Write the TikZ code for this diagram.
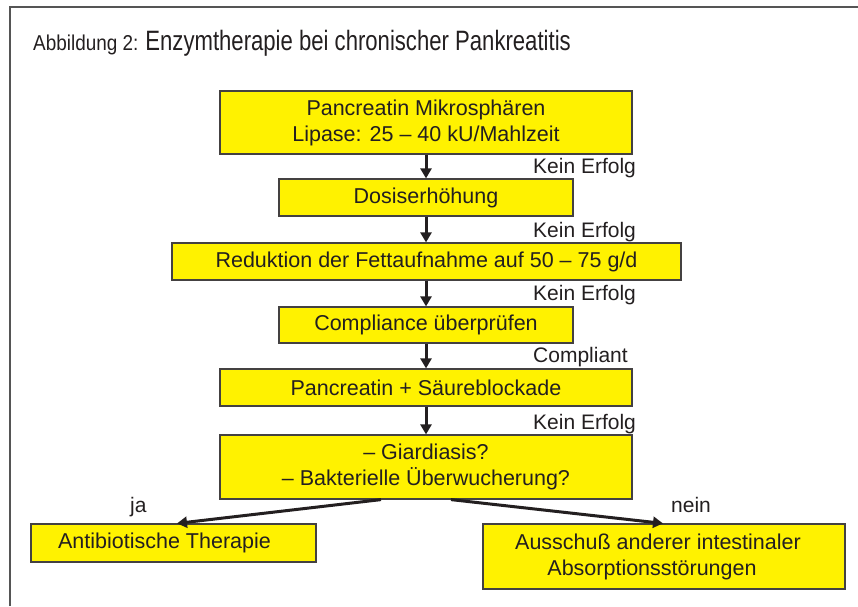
\documentclass[tikz,border=0pt]{standalone}
\usepackage{fontspec}
\setmainfont{Liberation Sans}
\newfontfamily\condfont[FakeStretch=0.88]{Liberation Sans}
\newfontfamily\titlefont[FakeStretch=0.79]{Liberation Sans}
\usetikzlibrary{arrows.meta}

\definecolor{boxyellow}{HTML}{FFF200}
\definecolor{inkgray}{HTML}{231F20}
\definecolor{framegray}{HTML}{555555}

\tikzset{
  stepbox/.style={draw=inkgray!85, line width=1.2pt, fill=boxyellow, inner sep=0pt,
    align=center, text=inkgray, font=\fontsize{21.5}{26}\selectfont},
  flowarrow/.style={-{Triangle[length=10pt,width=11pt]}, line width=3pt, draw=inkgray},
  outcome/.style={anchor=base west, inner sep=0pt, text=inkgray, font=\fontsize{21}{25}\selectfont}
}

\begin{document}
\begin{tikzpicture}[x=1pt,y=-1pt]
\useasboundingbox (0,0) rectangle (858,606);

% Frame and title
\draw[framegray, line width=1.8pt] (10,606) -- (10,7) -- (858,7);
\node[anchor=base west, inner sep=0pt, text=inkgray] (title) at (33,50)
  {\condfont\fontsize{21.5}{24}\selectfont Abbildung 2: \titlefont\fontsize{28}{32}\selectfont Enzymtherapie bei chronischer Pankreatitis};

% Therapy steps
\node[stepbox, minimum width=412pt, minimum height=63pt] (mikro) at (426,122.5) {Pancreatin Mikrosphären\\Lipase: 25 -- 40 kU/Mahlzeit};
\node[stepbox, minimum width=294pt, minimum height=37pt] (dosis) at (426,197.5) {Dosiserhöhung};
\node[stepbox, minimum width=509pt, minimum height=37pt] (fett) at (426.5,261.5) {Reduktion der Fettaufnahme auf 50 -- 75 g/d};
\node[stepbox, minimum width=294pt, minimum height=36pt] (compl) at (426,325) {Compliance überprüfen};
\node[stepbox, minimum width=412pt, minimum height=37pt] (saeure) at (426,387.5) {Pancreatin + Säureblockade};
\node[stepbox, minimum width=412pt, minimum height=64pt] (giardia) at (426,467) {-- Giardiasis?\\-- Bakterielle Überwucherung?};

% Outcomes
\node[stepbox, minimum width=285pt, minimum height=38pt] (antibio) at (173.5,543) {Antibiotische Therapie\hspace*{18pt}};
\node[stepbox, minimum width=362pt, minimum height=65pt] (aussch) at (664,556.5) {Ausschuß anderer intestinaler\hspace*{12pt}\\Absorptionsstörungen\hspace*{24pt}};

% Arrows between the steps
\draw[flowarrow] (mikro.south) -- (dosis.north);
\draw[flowarrow] (dosis.south) -- (fett.north -| dosis.south);
\draw[flowarrow] (fett.south -| dosis.south) -- (compl.north);
\draw[flowarrow] (compl.south) -- (saeure.north);
\draw[flowarrow] (saeure.south) -- (giardia.north);
\draw[flowarrow] ([xshift=-45pt]giardia.south) -- ([xshift=3.5pt]antibio.north);
\draw[flowarrow] ([xshift=25pt]giardia.south) -- ([xshift=-1pt]aussch.north);

% Arrow labels
\node[outcome] (kein1) at (533,173) {Kein Erfolg};
\node[outcome] (kein2) at (533,237) {Kein Erfolg};
\node[outcome] (kein3) at (533,300) {Kein Erfolg};
\node[outcome] (complnt) at (533,362) {Compliant};
\node[outcome] (kein4) at (533,429) {Kein Erfolg};
\node[outcome] (ja) at (130,512) {ja};
\node[outcome] (nein) at (671,512) {nein};

\end{tikzpicture}
\end{document}
